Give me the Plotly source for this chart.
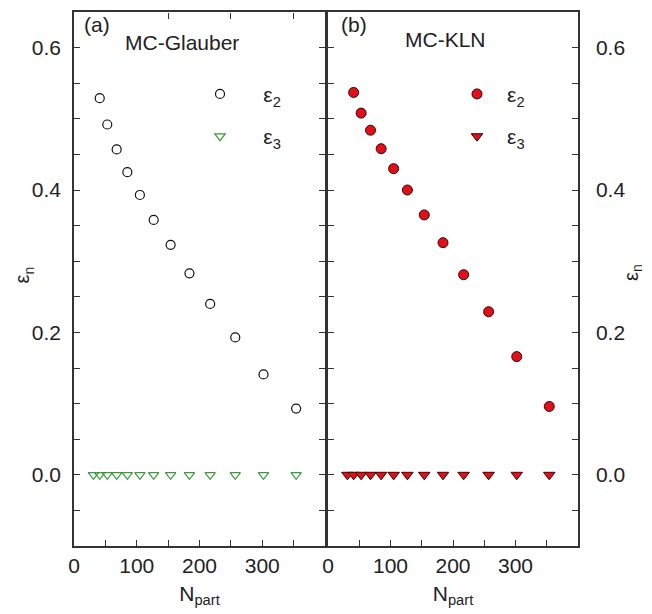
import plotly.graph_objects as go

# ---- data ----
npart_e2 = [41, 53, 68, 85, 105, 127, 154, 184, 217, 257, 302, 354]
npart_e3 = [31, 41, 53, 68, 85, 105, 127, 154, 184, 217, 257, 302, 354]

glauber_e2 = [0.529, 0.492, 0.457, 0.425, 0.393, 0.358, 0.323, 0.283, 0.240, 0.193, 0.141, 0.093]
glauber_e3 = [0.0, 0.0, 0.0, 0.0, 0.0, 0.0, 0.0, 0.0, 0.0, 0.0, 0.0, 0.0, 0.0]

kln_e2 = [0.537, 0.508, 0.484, 0.458, 0.430, 0.400, 0.365, 0.326, 0.281, 0.229, 0.166, 0.096]
kln_e3 = [0.0, 0.0, 0.0, 0.0, 0.0, 0.0, 0.0, 0.0, 0.0, 0.0, 0.0, 0.0, 0.0]

x_tickvals = [0, 50, 100, 150, 200, 250, 300, 350, 400]
x_ticktext = ["0", "", "100", "", "200", "", "300", "", ""]
y_tickvals = [-0.05, 0.0, 0.05, 0.1, 0.15, 0.2, 0.25, 0.3, 0.35, 0.4, 0.45, 0.5, 0.55, 0.6]
y_ticktext = ["", "0.0", "", "", "", "0.2", "", "", "", "0.4", "", "", "", "0.6"]
top_tickvals = [150, 250, 350]

FONT = "Liberation Sans, Arial, sans-serif"
AX = "#333333"
TXT = "#222222"
GREEN = "#3a9a3a"
RED = "#e0101a"
PAD_A = "\u00a0\u00a0\u00a0\u00a0"
PAD_B = "\u00a0\u2009"

fig = go.Figure()

fig.add_trace(go.Scatter(
    x=npart_e2, y=glauber_e2, mode="markers", name=PAD_A + "ε<sub>2</sub>",
    marker=dict(symbol="circle-open", size=9, color="#111111", line=dict(width=1.2)),
    xaxis="x", yaxis="y", legend="legend", legendgroup="g1"))
fig.add_trace(go.Scatter(
    x=npart_e3, y=glauber_e3, mode="markers", name=PAD_A + "ε<sub>3</sub>",
    marker=dict(symbol="triangle-down-open", size=9, color=GREEN, line=dict(width=1.2)),
    xaxis="x", yaxis="y", legend="legend", legendgroup="g2"))
fig.add_trace(go.Scatter(
    x=npart_e2, y=kln_e2, mode="markers", name=PAD_B + "ε<sub>2</sub>",
    marker=dict(symbol="circle", size=10, color=RED, line=dict(width=1, color="#400000")),
    xaxis="x2", yaxis="y2", legend="legend2", legendgroup="k1"))
fig.add_trace(go.Scatter(
    x=npart_e3, y=kln_e3, mode="markers", name=PAD_B + "ε<sub>3</sub>",
    marker=dict(symbol="triangle-down", size=10, color=RED, line=dict(width=1, color="#400000")),
    xaxis="x2", yaxis="y2", legend="legend2", legendgroup="k2"))
# invisible carrier trace so that the top tick axis of panel (a) is drawn
fig.add_trace(go.Scatter(
    x=npart_e2, y=glauber_e2, mode="markers", marker=dict(opacity=0), showlegend=False,
    hoverinfo="skip", xaxis="x3", yaxis="y"))

xcommon = dict(range=[0, 400], tickvals=x_tickvals, ticktext=x_ticktext, ticks="inside",
               ticklen=6, tickwidth=1.3, tickcolor=AX, showline=True, linecolor=AX, linewidth=1.5,
               mirror=True, showgrid=False, zeroline=False,
               tickfont=dict(family=FONT, size=21, color=TXT),
               title=dict(text="N<sub>part</sub>", font=dict(family=FONT, size=21, color=TXT),
                          standoff=10))
ycommon = dict(range=[-0.1, 0.65], tickvals=y_tickvals, ticktext=y_ticktext, ticks="inside",
               ticklen=6, tickwidth=1.3, tickcolor=AX, showline=True, linecolor=AX, linewidth=1.5,
               mirror="ticks", showgrid=False, zeroline=False,
               tickfont=dict(family=FONT, size=21, color=TXT))

legcommon = dict(font=dict(family=FONT, size=21, color=TXT), bgcolor="rgba(0,0,0,0)",
                 tracegroupgap=12, traceorder="grouped", xanchor="left", yanchor="top",
                 itemclick=False)

# page has an 8px body margin: figure is shrunk so the plot lands where the reference has it
OFF = 8
ML, MR, MT, MB = 74, 74, 10, 68
FIG_W, FIG_H = 652 - OFF, 614 - OFF
W, H = 652 - ML - MR, 614 - MT - MB


def px_x(px):
    return (px - ML) / W


def px_y(py):
    return 1 - (py - MT) / H


fig.update_layout(
    width=FIG_W, height=FIG_H,
    margin=dict(l=ML - OFF, r=MR, t=MT - OFF, b=MB),
    paper_bgcolor="white", plot_bgcolor="white",
    xaxis=dict(domain=[0, 0.498], anchor="y", **xcommon),
    yaxis=dict(domain=[0, 1], anchor="x", side="left", ticklabelstandoff=7, **ycommon),
    xaxis2=dict(domain=[0.504, 1], anchor="y2", **xcommon),
    yaxis2=dict(domain=[0, 1], anchor="x2", side="right", ticklabelstandoff=12, **ycommon),
    xaxis3=dict(overlaying="x", side="top", anchor="free", position=1, range=[0, 400],
                tickvals=top_tickvals, ticks="inside", ticklen=6, tickwidth=1.3, tickcolor=AX,
                showticklabels=False, showline=False, showgrid=False, zeroline=False),
    legend=dict(x=px_x(200), y=px_y(72), **legcommon),
    legend2=dict(x=px_x(457), y=px_y(72), **legcommon),
    showlegend=True,
)

labels = [("(a)", 82, 23), ("MC-Glauber", 123, 41), ("(b)", 339, 23), ("MC-KLN", 403, 38)]
anns = []
for text, x, y in labels:
    anns.append(dict(text=text, x=px_x(x), y=px_y(y), xref="paper", yref="paper",
                     xanchor="left", yanchor="middle", showarrow=False,
                     font=dict(family=FONT, size=21, color=TXT)))
anns.append(dict(text="ε<sub>n</sub>", x=px_x(OFF + 1), y=px_y(274), xref="paper", yref="paper",
                 xanchor="left", yanchor="middle", textangle=-90, showarrow=False,
                 font=dict(family=FONT, size=20, color=TXT)))
anns.append(dict(text="ε<sub>n</sub>", x=px_x(632), y=px_y(272), xref="paper", yref="paper",
                 xanchor="center", yanchor="middle", textangle=-90, showarrow=False,
                 font=dict(family=FONT, size=20, color=TXT)))
fig.update_layout(annotations=anns)

fig.write_html("out.html")
